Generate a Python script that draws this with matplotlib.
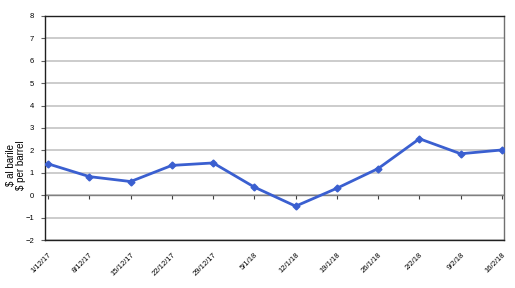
import matplotlib
matplotlib.use("Agg")
import matplotlib.pyplot as plt

dates = ["1/12/17", "8/12/17", "15/12/17", "22/12/17", "29/12/17", "5/1/18",
         "12/1/18", "19/1/18", "26/1/18", "2/2/18", "9/2/18", "16/2/18"]
values = [1.40, 0.83, 0.61, 1.33, 1.44, 0.36, -0.49, 0.31, 1.19, 2.52, 1.85, 2.02]
yticks = [-2, -1, 0, 1, 2, 3, 4, 5, 6, 7, 8]

plt.rcParams['font.family'] = ['Liberation Sans', 'DejaVu Sans']

fig = plt.figure(figsize=(5.15, 2.88), dpi=100)
ax = fig.add_axes([45/515, 1-240/288, (504-45)/515, (240-16)/288])

x = list(range(len(dates)))
ax.set_ylim(-2, 8)
ax.set_xlim(-0.075, len(dates) - 1 + 0.05)
ax.set_yticks(yticks)
ax.yaxis.grid(True, color='#c8c8c8', linewidth=1.3)
ax.set_axisbelow(True)
ax.axhline(0, color='#808080', linewidth=1.0, zorder=1)

ax.plot(x, values, color='#3a5fd0', linewidth=2.0, marker='D', markersize=3.5,
        markerfacecolor='#3a5fd0', markeredgecolor='#3a5fd0', zorder=3)

ax.set_xticks(x)
ax.set_xticklabels(dates, rotation=45, ha='right', rotation_mode='anchor', fontsize=5.5)
ax.tick_params(axis='x', length=0, pad=8)
ax.tick_params(axis='y', labelsize=5.5, length=3, width=0.8, color='#606060', pad=5)

sec = ax.secondary_xaxis(0, transform=ax.transData)
sec.set_xticks(x)
sec.set_xticklabels([])
sec.tick_params(length=3, width=0.8, color='#404040', direction='out')
sec.spines['bottom'].set_visible(False)

for s in ['top', 'left', 'bottom']:
    ax.spines[s].set_color('#202020')
    ax.spines[s].set_linewidth(1.0)
ax.spines['right'].set_color('#707070')
ax.spines['right'].set_linewidth(1.0)

fig.text(16/515, 1-165/288, "$ al barile\n$ per barrel", rotation=90,
         ha='center', va='center', fontsize=7, linespacing=1.1)

fig.savefig("out.png", dpi=100)
